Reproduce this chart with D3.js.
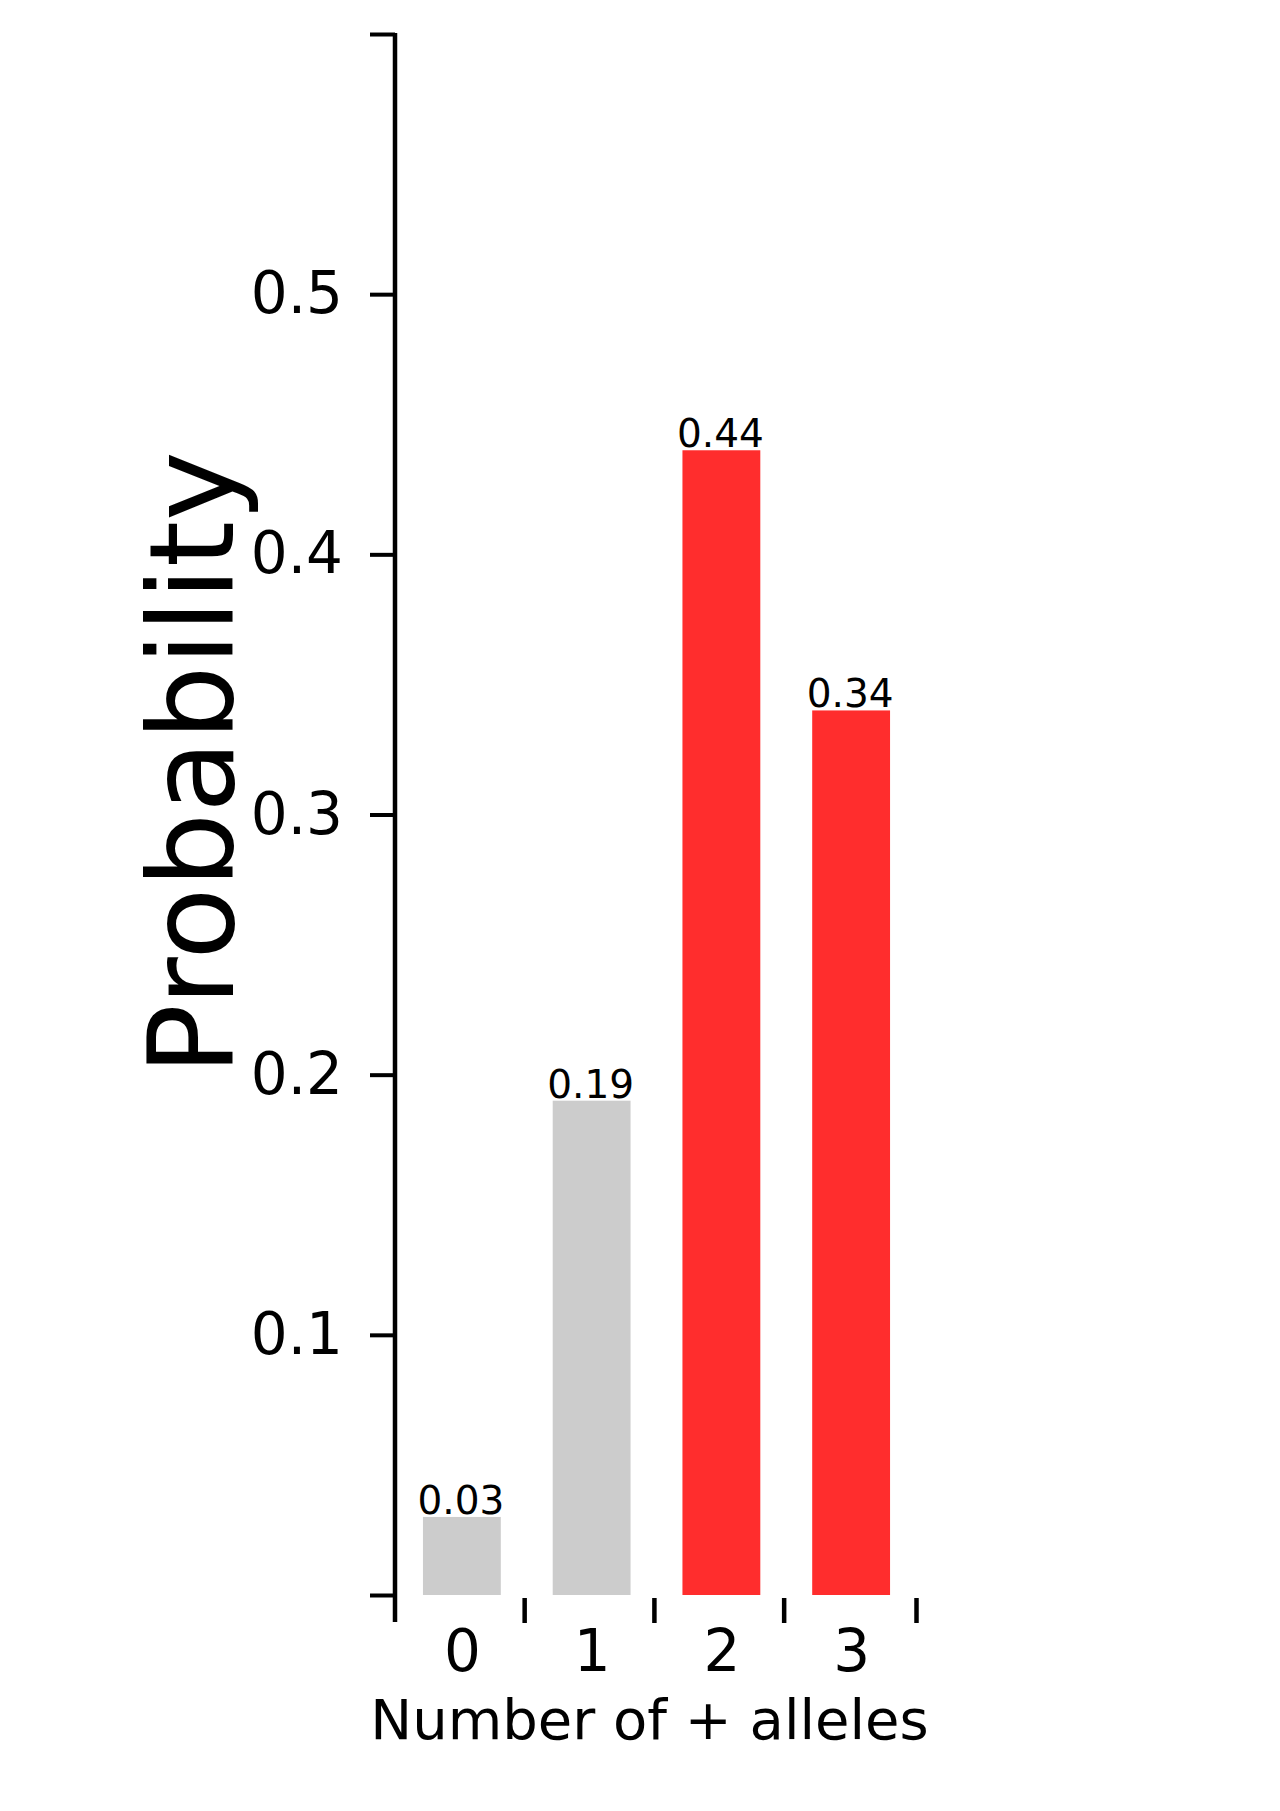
<!DOCTYPE html>
<html>
<head>
<meta charset="utf-8">
<script src="https://cdn.jsdelivr.net/npm/d3@7"></script>
<style>
  html, body { margin: 0; padding: 0; background: #ffffff; }
  svg { display: block; font-family: "DejaVu Sans", sans-serif; }
</style>
</head>
<body>
<svg id="chart" width="1280" height="1811"></svg>
<script>
// ---- data ----
const categories = ["0", "1", "2", "3"];
const probabilities = [0.03, 0.19, 0.44, 0.34];
const barColors = ["#cccccc", "#cccccc", "#ff2d2d", "#ff2d2d"];
const yTickValues = [0, 0.1, 0.2, 0.3, 0.4, 0.5, 0.6];
const yTickLabels = ["", "0.1", "0.2", "0.3", "0.4", "0.5", ""];
const xBoundaryTicks = [0.48, 1.48, 2.48, 3.5];
const xLabel = "Number of + alleles";
const yLabel = "Probability";

// ---- layout ----
const svg = d3.select("#chart");
const y = d3.scaleLinear().domain([0, 0.6]).range([1595, 34]);
const x = d3.scaleLinear().domain([-0.5, 3.5]).range([397, 916]);
const barWidth = 0.6;

// bars
svg.append("g").selectAll("rect")
  .data(probabilities)
  .join("rect")
  .attr("x", (d, i) => x(i - barWidth / 2))
  .attr("width", (d, i) => x(i + barWidth / 2) - x(i - barWidth / 2))
  .attr("y", d => y(d))
  .attr("height", d => y(0) - y(d))
  .attr("fill", (d, i) => barColors[i]);

// value labels
svg.append("g").selectAll("text")
  .data(probabilities)
  .join("text")
  .attr("x", (d, i) => x(i) - 1)
  .attr("y", d => y(d) - 3)
  .attr("text-anchor", "middle")
  .attr("font-size", 39)
  .attr("fill", "#000")
  .text(d => d.toFixed(2));

// y axis
const yAxis = d3.axisLeft(y)
  .tickValues(yTickValues)
  .tickFormat((d, i) => yTickLabels[i])
  .tickSize(25)
  .tickPadding(27);
const gy = svg.append("g").attr("transform", "translate(395,0)").call(yAxis);
gy.select(".domain").remove();
gy.selectAll(".tick line").attr("stroke", "#000").attr("stroke-width", 4);
gy.selectAll(".tick text")
  .attr("font-size", 58)
  .attr("font-family", "DejaVu Sans, sans-serif")
  .attr("fill", "#000");
// spine
svg.append("line")
  .attr("x1", 395).attr("x2", 395)
  .attr("y1", y(0.6) - 1).attr("y2", y(0) + 27)
  .attr("stroke", "#000").attr("stroke-width", 4.5);

// x axis boundary ticks
const xTicksAxis = d3.axisBottom(x)
  .tickValues(xBoundaryTicks)
  .tickFormat("")
  .tickSize(25)
  .tickSizeOuter(0);
const gx = svg.append("g").attr("transform", "translate(0,1598)").call(xTicksAxis);
gx.select(".domain").remove();
gx.selectAll(".tick line").attr("stroke", "#000").attr("stroke-width", 4.5);

// x category labels
const xLabelsAxis = d3.axisBottom(x)
  .tickValues(categories.map((c, i) => i))
  .tickFormat((d, i) => categories[i])
  .tickSize(0)
  .tickPadding(32);
const gxl = svg.append("g").attr("transform", "translate(0,1598)").call(xLabelsAxis);
gxl.select(".domain").remove();
gxl.selectAll(".tick text")
  .attr("font-size", 58)
  .attr("font-family", "DejaVu Sans, sans-serif")
  .attr("fill", "#000");

// axis titles
svg.append("text")
  .attr("x", x(1.5) - 7)
  .attr("y", 1739)
  .attr("text-anchor", "middle")
  .attr("font-size", 56)
  .attr("fill", "#000")
  .text(xLabel);

svg.append("text")
  .attr("transform", "translate(233,763) rotate(-90)")
  .attr("text-anchor", "middle")
  .attr("font-size", 118)
  .attr("fill", "#000")
  .text(yLabel);
</script>
</body>
</html>
